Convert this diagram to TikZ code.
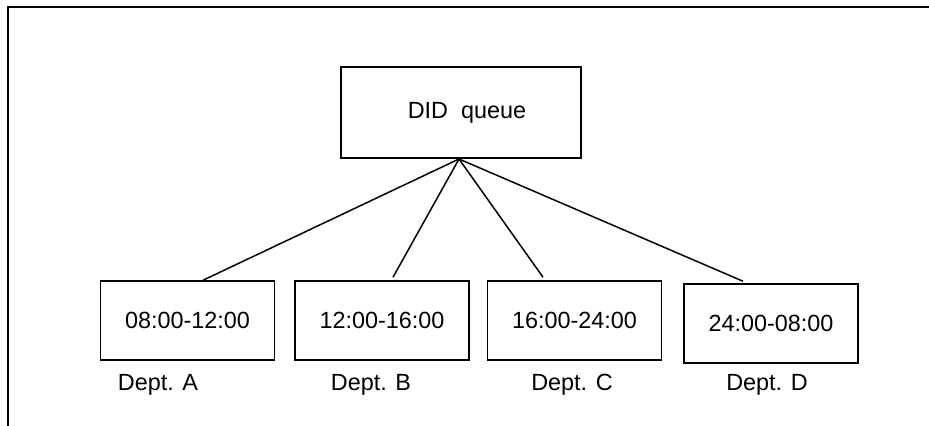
\documentclass[tikz,border=0pt]{standalone}
\usepackage{fontspec}
\setmainfont{Liberation Sans}

\begin{document}
\begin{tikzpicture}[x=0.5pt,y=-0.5pt,line width=0.75pt,
  font=\fontsize{11.7}{14}\selectfont,
  slotbox/.style={draw, minimum width=87pt, minimum height=39.5pt, inner sep=0pt},
  deptlabel/.style={inner sep=0pt}]
  \useasboundingbox (0,0) rectangle (929,426);
  \draw[line width=1.2pt] (8,426) -- (8,7) -- (929,7);

  \node[
    draw,
    minimum width=120pt,
    minimum height=45.5pt
  ] (queue) at (461,112.5) {\hspace{6pt}DID\ \ queue};
  \coordinate (apex) at (459,159);

  \node[slotbox] (slotA) at (187.5,320.5) {08:00-12:00};
  \node[slotbox] (slotB) at (382,320.5) {12:00-16:00};
  \node[slotbox] (slotC) at (574.5,320.5) {16:00-24:00};
  \node[slotbox] (slotD) at (771,323.5) {24:00-08:00};

  \node[deptlabel] (deptA) at (158,385) {Dept. A};
  \node[deptlabel] (deptB) at (371,385) {Dept. B};
  \node[deptlabel] (deptC) at (572,385) {Dept. C};
  \node[deptlabel] (deptD) at (767,385) {Dept. D};

  \draw (apex) -- ([xshift=7.75pt]slotA.north);
  \draw (apex) -- ([xshift=5.5pt,yshift=1.5pt]slotB.north);
  \draw (apex) -- ([xshift=-15.75pt,yshift=1.5pt]slotC.north);
  \draw (apex) -- ([xshift=-14pt,yshift=1pt]slotD.north);
\end{tikzpicture}
\end{document}
